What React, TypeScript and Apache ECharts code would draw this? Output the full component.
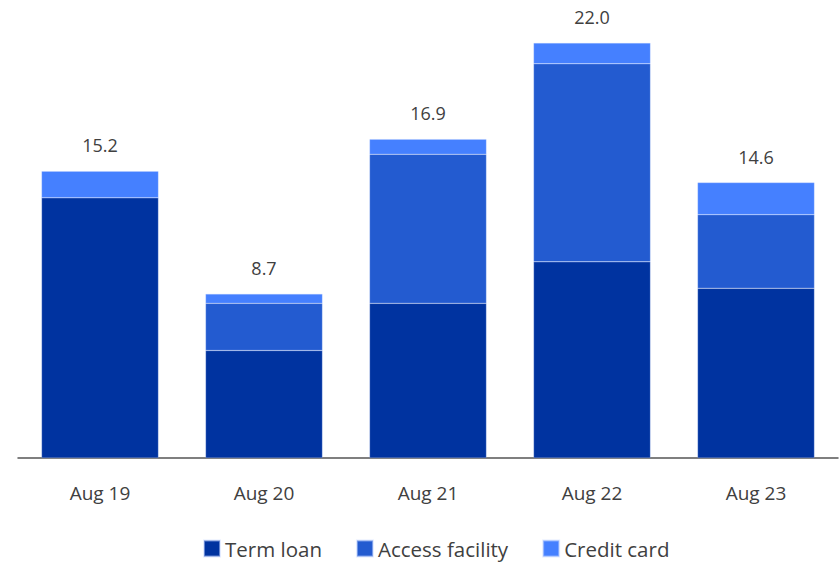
import React, { useEffect, useRef } from "react";
import * as echarts from "echarts";

const categories = ["Aug 19", "Aug 20", "Aug 21", "Aug 22", "Aug 23"];
const termLoan = [13.8, 5.7, 8.2, 10.4, 9.0];
const accessFacility = [0, 2.5, 7.9, 10.5, 3.9];
const creditCard = [1.4, 0.5, 0.8, 1.1, 1.7];
const totals = [15.2, 8.7, 16.9, 22.0, 14.6];

const FONT = "'Open Sans', 'Noto Sans', sans-serif";
const TEXT = "#404040";

export default function App() {
  const ref = useRef<HTMLDivElement>(null);
  useEffect(() => {
    if (!ref.current) return;
    const chart = echarts.init(ref.current, null, { renderer: "svg" });
    const barStyle = (color: string) => ({
      color,
      borderColor: "rgba(200,215,255,0.5)",
      borderWidth: 0.5,
    });
    chart.setOption({
      animation: false,
      textStyle: { fontFamily: FONT },
      grid: { left: 18, right: 2, top: 43, bottom: 104, containLabel: false },
      legend: {
        bottom: -2,
        left: 198,
        itemWidth: 16,
        itemHeight: 16,
        itemGap: 34,
        icon: "rect",
        textStyle: { fontSize: 20.5, color: TEXT, fontFamily: FONT },
        data: ["Term loan", "Access facility", "Credit card"],
      },
      xAxis: {
        type: "category",
        data: categories,
        axisLine: { lineStyle: { color: "#555", width: 1.5 } },
        axisTick: { show: false },
        axisLabel: { fontSize: 19, color: TEXT, margin: 25, fontFamily: FONT },
      },
      yAxis: {
        type: "value",
        min: 0,
        max: 22,
        show: false,
        splitLine: { show: false },
      },
      series: [
        {
          name: "Term loan",
          type: "bar",
          stack: "total",
          barWidth: "71.3%",
          data: termLoan,
          itemStyle: barStyle("#0033A0"),
        },
        {
          name: "Access facility",
          type: "bar",
          stack: "total",
          data: accessFacility,
          itemStyle: barStyle("#235BD0"),
        },
        {
          name: "Credit card",
          type: "bar",
          stack: "total",
          data: creditCard,
          itemStyle: barStyle("#4580FF"),
          label: {
            show: true,
            position: "top",
            distance: 17,
            fontSize: 18,
            color: TEXT,
            fontFamily: FONT,
            formatter: (p: any) => totals[p.dataIndex].toFixed(1),
          },
        },
      ],
    });
    return () => chart.dispose();
  }, []);
  return (
    <div
      ref={ref}
      style={{ position: "absolute", left: 0, top: 0, width: 840, height: 562 }}
    />
  );
}
